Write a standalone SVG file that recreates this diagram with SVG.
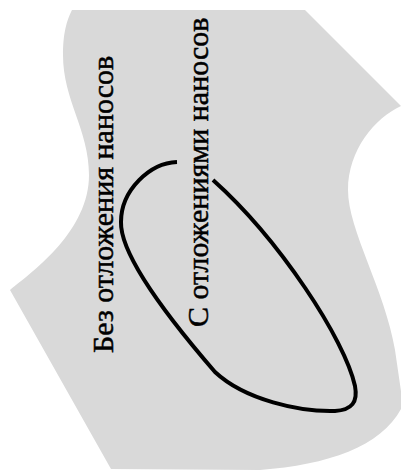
<svg xmlns="http://www.w3.org/2000/svg" width="401" height="472" viewBox="0 0 401 472">
<style>
.area{fill:#d9d9d9;stroke:none}
.loop{fill:none;stroke:#000;stroke-width:4;stroke-linecap:butt}
.lbl{font-family:"Liberation Serif","Times New Roman",serif;font-size:30px;fill:#000;stroke:#000;stroke-width:0.5}
</style>
<g id="region">
<path class="area" d="M72,10 L305,10 L401,106 C375,118 348,150 348,190 C348,230 385,290 395,350 L403,405 C385,445 330,465 260,470 L111,469 L10,290 C35,270 89,230 89,175 C89,130 63,100 63,55 C63,30 68,18 72,10 Z"/>
</g>
<g id="connectors">
<path class="loop" d="M177,162 C150,163 121,190 121,222 C120,255 170,320 215,372 C245,400 300,412 335,411 C352,410 358,402 355,386 C345,340 280,240 213,180"/>
</g>
<g id="label-without">
<text class="lbl" transform="translate(113,353) rotate(-90)">Без отложения наносов</text>
</g>
<g id="label-with">
<text class="lbl" transform="translate(208,327) rotate(-90)">С отложениями наносов</text>
</g>
</svg>
